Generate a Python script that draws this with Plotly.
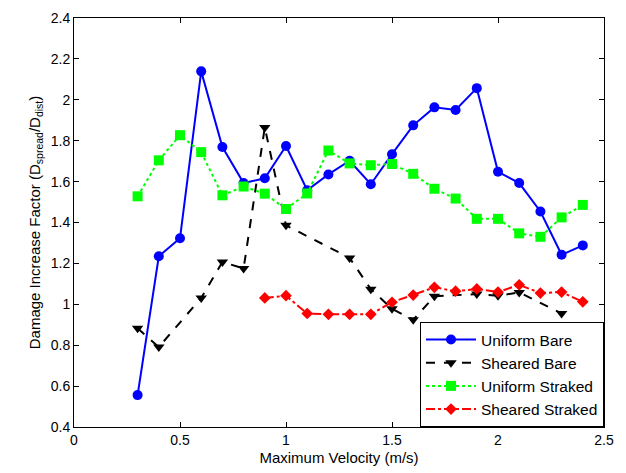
import plotly.graph_objects as go

x_ub = [0.3, 0.4, 0.5, 0.6, 0.7, 0.8, 0.9, 1.0, 1.1, 1.2, 1.3, 1.4, 1.5, 1.6, 1.7, 1.8, 1.9, 2.0, 2.1, 2.2, 2.3, 2.4]
y_ub = [0.556, 1.235, 1.323, 2.139, 1.769, 1.593, 1.616, 1.774, 1.558, 1.635, 1.702, 1.587, 1.734, 1.875, 1.963, 1.95, 2.057, 1.648, 1.593, 1.454, 1.242, 1.288]

x_sb = [0.3, 0.4, 0.6, 0.7, 0.8, 0.9, 1.0, 1.3, 1.4, 1.5, 1.6, 1.7, 1.9, 2.0, 2.1, 2.3]
y_sb = [0.883, 0.791, 1.031, 1.207, 1.175, 1.865, 1.386, 1.227, 1.074, 0.978, 0.924, 1.039, 1.05, 1.042, 1.058, 0.955]

x_us = [0.3, 0.4, 0.5, 0.6, 0.7, 0.8, 0.9, 1.0, 1.1, 1.2, 1.3, 1.4, 1.5, 1.6, 1.7, 1.8, 1.9, 2.0, 2.1, 2.2, 2.3, 2.4]
y_us = [1.528, 1.704, 1.827, 1.744, 1.533, 1.576, 1.541, 1.466, 1.542, 1.752, 1.689, 1.68, 1.686, 1.638, 1.565, 1.517, 1.418, 1.418, 1.347, 1.33, 1.425, 1.486]

x_ss = [0.9, 1.0, 1.1, 1.2, 1.3, 1.4, 1.5, 1.6, 1.7, 1.8, 1.9, 2.0, 2.1, 2.2, 2.3, 2.4]
y_ss = [1.031, 1.042, 0.955, 0.951, 0.951, 0.951, 1.01, 1.045, 1.083, 1.064, 1.075, 1.06, 1.095, 1.055, 1.06, 1.012]

x_ticks = [0, 0.5, 1, 1.5, 2, 2.5]
x_ticktext = ["0", "0.5", "1", "1.5", "2", "2.5"]
y_ticks = [0.4, 0.6, 0.8, 1.0, 1.2, 1.4, 1.6, 1.8, 2.0, 2.2, 2.4]
y_ticktext = ["0.4", "0.6", "0.8", "1", "1.2", "1.4", "1.6", "1.8", "2", "2.2", "2.4"]

FONT = "Liberation Sans, Arial"

fig = go.Figure()
fig.add_trace(go.Scatter(x=x_ub, y=y_ub, mode="lines+markers", name="Uniform Bare", legendgroup="g1",
                         line=dict(color="#0000ff", width=2, dash="solid"),
                         marker=dict(symbol="circle", size=10, color="#0000ff")))
fig.add_trace(go.Scatter(x=x_sb, y=y_sb, mode="lines+markers", name="Sheared Bare", legendgroup="g2",
                         line=dict(color="#000000", width=2, dash="dash"),
                         marker=dict(symbol="triangle-down", size=10, color="#000000")))
fig.add_trace(go.Scatter(x=x_us, y=y_us, mode="lines+markers", name="Uniform Straked", legendgroup="g3",
                         line=dict(color="#00ff00", width=2, dash="dot"),
                         marker=dict(symbol="square", size=10, color="#00ff00")))
fig.add_trace(go.Scatter(x=x_ss, y=y_ss, mode="lines+markers", name="Sheared Straked", legendgroup="g4",
                         line=dict(color="#ff0000", width=2, dash="dashdot"),
                         marker=dict(symbol="diamond", size=9, color="#ff0000")))

axis_common = dict(showline=True, linecolor="black", linewidth=1, mirror="ticks",
                   ticks="inside", ticklen=5, tickcolor="black", showgrid=False,
                   zeroline=False, tickfont=dict(family=FONT, size=14, color="black"))

fig.update_xaxes(range=[0, 2.5], tickvals=x_ticks, ticktext=x_ticktext,
                 title=dict(text="Maximum Velocity (m/s)", standoff=5,
                            font=dict(family=FONT, size=15, color="black")),
                 **axis_common)
fig.update_yaxes(range=[0.4, 2.4], tickvals=y_ticks, ticktext=y_ticktext,
                 title=dict(text="Damage Increase Factor (D<sub>spread</sub>/D<sub>dist</sub>)", standoff=6,
                            font=dict(family=FONT, size=15, color="black")),
                 **axis_common)

fig.update_layout(
    width=626, height=473,
    margin=dict(l=74, r=22, t=10, b=46),
    paper_bgcolor="white", plot_bgcolor="white",
    font=dict(family=FONT, color="black"),
    legend=dict(x=1, y=0, xanchor="right", yanchor="bottom",
                bgcolor="white", bordercolor="black", borderwidth=1,
                font=dict(family=FONT, size=15.5, color="black"),
                itemwidth=50, tracegroupgap=0),
)

fig.write_html("out.html")
